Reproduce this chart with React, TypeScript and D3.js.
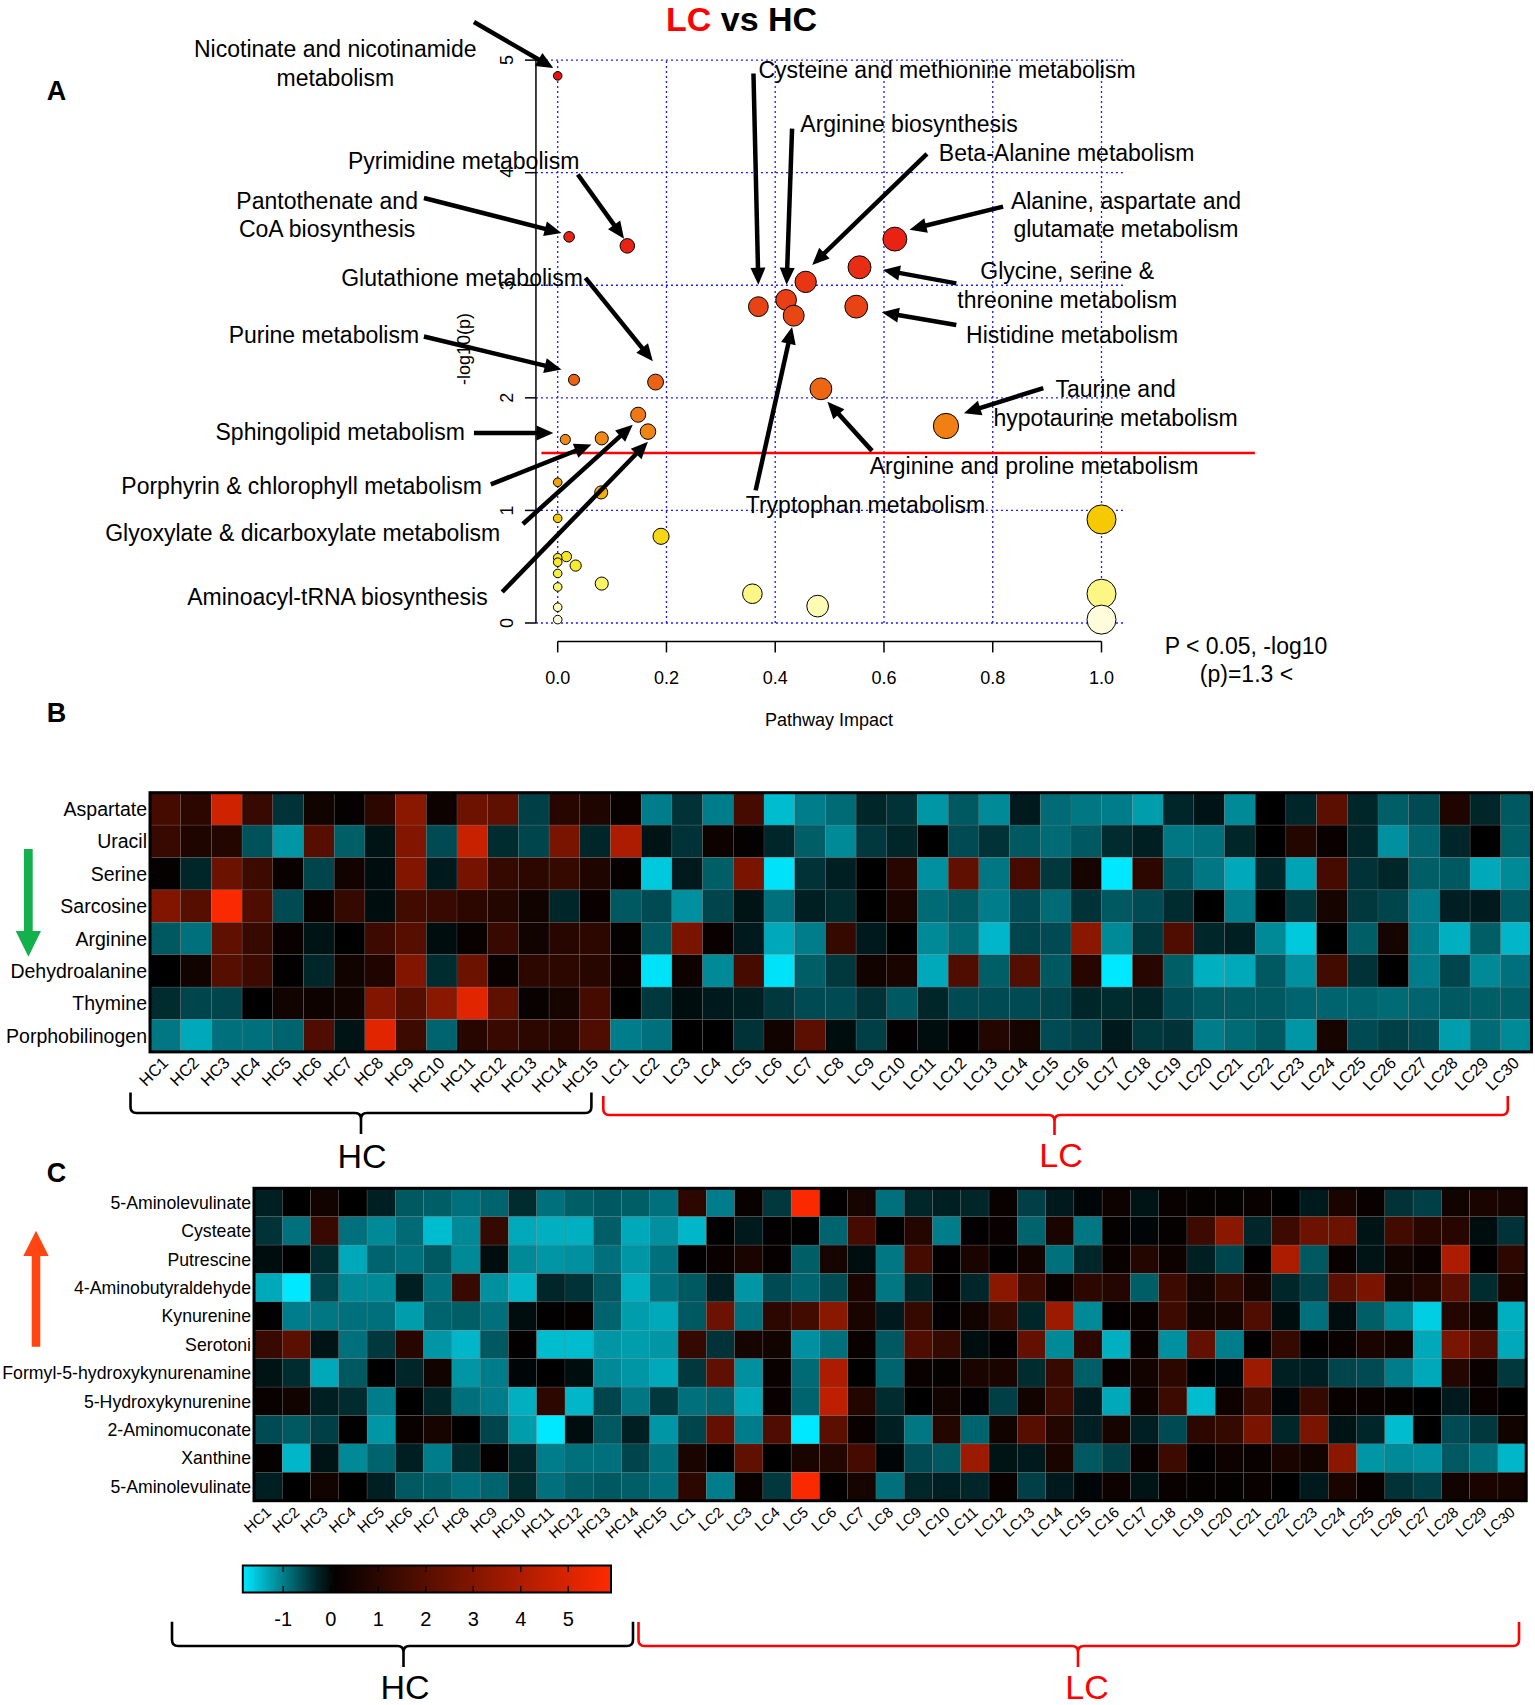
import React, { useEffect } from "react";
import * as d3 from "d3";

// ---------------- Panel A: pathway analysis data ----------------
const pathwayImpact = [0, 0.021, 0.128, 0.03, 0.18, 0.148, 0.166, 0.081, 0.014, 0, 0.08, 0, 0.19, 0.016, 0, 0, 0.033, 0, 0, 0.081, 0, 0,
  0.369, 0.42, 0.434, 0.456, 0.555, 0.549, 0.62, 0.484, 0.714, 1.0, 0.358, 0.478, 1.0, 1.0];
const negLogP = [4.86, 3.43, 3.35, 2.16, 2.14, 1.85, 1.70, 1.64, 1.63, 1.25, 1.16, 0.93, 0.77, 0.59, 0.58, 0.54, 0.51, 0.44, 0.32, 0.35, 0.14, 0.03,
  2.81, 2.87, 2.73, 3.03, 3.16, 2.81, 3.41, 2.08, 1.75, 0.92, 0.26, 0.15, 0.26, 0.03];
const xTicksA = [0, 0.2, 0.4, 0.6, 0.8, 1.0];
const yTicksA = [0, 1, 2, 3, 4, 5];
const thresholdNegLogP = 1.51;

// annotations (text anchor + arrow in data units of panel A)
const pathwayLabels = [
  { lines: ["Nicotinate and nicotinamide", "metabolism"], at: [-0.409, 5.099], from: [-0.154, 5.338], to: [-0.008, 4.93] },
  { lines: ["Pyrimidine metabolism"], at: [-0.173, 4.106], from: [0.037, 3.984], to: [0.122, 3.413] },
  { lines: ["Pantothenate and", "CoA biosynthesis"], at: [-0.424, 3.752], from: [-0.246, 3.775], to: [0.007, 3.464] },
  { lines: ["Glutathione metabolism"], at: [-0.176, 3.066], from: [0.051, 3.066], to: [0.175, 2.325] },
  { lines: ["Purine metabolism"], at: [-0.43, 2.558], from: [-0.246, 2.545], to: [0.007, 2.251] },
  { lines: ["Sphingolipid metabolism"], at: [-0.4, 1.7], from: [-0.154, 1.688], to: [-0.008, 1.688] },
  { lines: ["Porphyrin & chlorophyll metabolism"], at: [-0.471, 1.223], from: [-0.123, 1.231], to: [0.062, 1.586] },
  { lines: ["Glyoxylate & dicarboxylate metabolism"], at: [-0.469, 0.803], from: [-0.064, 0.879], to: [0.138, 1.761] },
  { lines: ["Aminoacyl-tRNA biosynthesis"], at: [-0.405, 0.232], from: [-0.102, 0.275], to: [0.166, 1.61] },
  { lines: ["Cysteine and methionine metabolism"], at: [0.716, 4.914], from: [0.36, 4.881], to: [0.369, 3.005] },
  { lines: ["Arginine biosynthesis"], at: [0.646, 4.432], from: [0.431, 4.391], to: [0.421, 3.005] },
  { lines: ["Beta-Alanine metabolism"], at: [0.936, 4.176], from: [0.679, 4.168], to: [0.468, 3.18] },
  { lines: ["Alanine, aspartate and", "glutamate metabolism"], at: [1.045, 3.752], from: [0.819, 3.699], to: [0.647, 3.494] },
  { lines: ["Glycine, serine &", "threonine metabolism"], at: [0.937, 3.128], from: [0.733, 3.017], to: [0.598, 3.136] },
  { lines: ["Histidine metabolism"], at: [0.946, 2.556], from: [0.733, 2.647], to: [0.596, 2.761] },
  { lines: ["Taurine and", "hypotaurine metabolism"], at: [1.026, 2.076], from: [0.893, 2.087], to: [0.747, 1.864] },
  { lines: ["Arginine and proline metabolism"], at: [0.876, 1.395], from: [0.578, 1.529], to: [0.496, 1.966] },
  { lines: ["Tryptophan metabolism"], at: [0.566, 1.048], from: [0.364, 1.178], to: [0.431, 2.63] },
];

// ---------------- Heatmap samples ----------------
const samples = ["HC1", "HC2", "HC3", "HC4", "HC5", "HC6", "HC7", "HC8", "HC9", "HC10", "HC11", "HC12", "HC13", "HC14", "HC15",
  "LC1", "LC2", "LC3", "LC4", "LC5", "LC6", "LC7", "LC8", "LC9", "LC10", "LC11", "LC12", "LC13", "LC14", "LC15",
  "LC16", "LC17", "LC18", "LC19", "LC20", "LC21", "LC22", "LC23", "LC24", "LC25", "LC26", "LC27", "LC28", "LC29", "LC30"];

// ---------------- Panel B (decreased metabolites) ----------------
const rowsB = ["Aspartate", "Uracil", "Serine", "Sarcosine", "Arginine", "Dehydroalanine", "Thymine", "Porphobilinogen"];
const aspartate = [1.6, 1.0, 4.8, 1.3, -0.4, 0.4, 0.1, 1.0, 3.2, 0.3, 2.5, 2.2, -0.5, 0.9, 0.7,
  0.2, -1.0, -0.4, -1.0, 1.6, -1.5, -1.0, -0.85, -0.3, -0.4, -1.2, -0.7, -1.1, -0.2, -0.85, -0.95, -1.0, -1.25, -0.3, -0.15, -1.1, 0, -0.3, 2.1, -0.3, -0.75, -0.6, 0.7, -0.3, -0.7];
const uracil = [1.3, 0.7, 0.8, -0.65, -1.2, 2.0, -0.75, -0.15, 3.0, -0.6, 4.6, -0.35, -0.55, 2.8, -0.3,
  4.0, -0.15, -0.4, 0.3, 0.1, -0.3, -0.75, -1.1, -0.45, -0.3, 0, -0.6, -0.4, -0.7, -0.85, -0.7, -0.35, -0.25, -0.95, -0.9, -0.3, 0, 0.8, 0.2, -0.3, -1.15, -0.8, -0.3, 0, -0.75];
const serine = [0.1, -0.3, 2.5, 1.4, 0.2, -0.55, 0.4, -0.1, 3.0, -0.2, 2.7, 1.2, 1.0, 1.2, 0.7,
  0.1, -1.6, -0.2, -0.75, 2.8, -1.8, -0.4, -0.25, 0, 0.9, -1.15, 2.2, -0.95, 1.6, -0.45, 0.5, -1.85, 1.0, -0.65, -0.95, -1.35, -0.3, -1.3, 1.6, -0.4, -0.3, -0.75, -0.7, -1.35, -1.1];
const sarcosine = [3.0, 2.0, 5.8, 1.8, -0.6, 0.2, 1.2, -0.1, 1.5, 1.3, 1.0, 0.8, 0.4, -0.3, 0.2,
  -0.7, -0.6, -1.15, -0.55, -0.15, -0.9, -0.25, -0.35, 0, 0.6, -0.85, -0.7, -1.0, -0.6, -0.85, -0.4, -0.7, -0.6, -0.35, 0, -1.0, 0, -0.45, 0.5, -0.45, -0.55, -1.0, -0.25, -0.2, -0.7];
const arginine = [-0.7, -0.9, 2.2, 1.3, 0.2, -0.15, 0, 1.4, 2.0, -0.1, 0.2, 1.3, 0.4, 0.9, 1.0,
  0.1, -0.7, 2.8, 0.2, -0.2, -1.35, -1.0, 1.2, -0.2, 0, -1.1, -0.85, -1.45, -0.55, -0.6, 3.2, -1.1, -0.45, 1.8, -0.3, -0.25, -1.1, -1.6, 0, -0.75, 0.5, -1.0, -1.4, -0.75, -1.45];
const dehydroalanine = [0, 0.4, 2.0, 1.4, 0.05, -0.3, 0.4, 0.7, 3.0, -0.35, 2.5, 0.2, 1.0, 1.0, 0.9,
  0.2, -1.8, 0.3, -1.1, 1.6, -1.8, -0.75, -0.45, 0.4, 0.6, -1.35, 1.8, -0.75, 1.9, -0.7, 0.9, -1.9, 0.9, -0.75, -1.4, -1.35, -0.7, -1.15, 1.5, -0.4, 0, -1.0, -0.55, -1.1, -0.9];
const thymine = [-0.35, -0.55, -0.55, 0, 0.4, 0.3, 0.4, 3.0, 2.0, 3.2, 5.2, 2.2, 0.2, 0.5, 1.6,
  0, -0.45, -0.1, -0.2, -0.25, -0.45, -0.6, -0.6, -0.4, -0.7, -0.3, -0.6, -0.6, -0.6, -0.55, -0.3, -0.35, -0.3, -0.6, -0.7, -0.7, -0.7, -0.8, -0.8, -0.8, -0.85, -0.8, -0.7, -0.75, -0.75];
const porphobilinogen = [-0.95, -1.35, -0.9, -0.9, -0.8, 1.8, -0.15, 5.2, 1.4, -0.8, 0.9, 1.3, 1.0, 0.9, 1.8,
  -1.0, -0.9, 0, 0, -0.4, 0.4, 2.1, -0.1, -0.5, 0.05, -0.1, 0.05, 0.8, 0.5, -0.6, -0.5, -0.2, -0.45, -0.4, -1.0, -0.85, -0.7, -1.2, 0.5, -0.6, -0.5, -0.6, -1.25, -0.85, -1.1];
const valuesB = [aspartate, uracil, serine, sarcosine, arginine, dehydroalanine, thymine, porphobilinogen];

// ---------------- Panel C (increased metabolites) ----------------
const rowsC = ["5-Aminolevulinate", "Cysteate", "Putrescine", "4-Aminobutyraldehyde", "Kynurenine", "Serotoni",
  "Formyl-5-hydroxykynurenamine", "5-Hydroxykynurenine", "2-Aminomuconate", "Xanthine", "5-Aminolevulinate"];
const aminolevulinate = [-0.25, 0, 0.4, 0, -0.25, -0.7, -0.75, -0.9, -0.8, -0.35, -0.9, -0.75, -0.7, -0.75, -0.9,
  1.0, -1.0, 0.2, -0.45, 5.8, 0.05, 0.5, -0.9, -0.3, -0.25, -0.3, 0.2, -0.5, -0.2, -0.05, 0.3, -0.15, 0.2, 0.1, 0.1, 0.2, 0, -0.2, 0.6, 0.2, -0.4, -0.5, 0.4, 0.6, 0.5];
const cysteate = [-0.4, -0.9, 1.3, -0.9, -1.1, -0.85, -1.5, -1.1, 1.2, -1.35, -1.4, -1.4, -0.75, -1.35, -1.15,
  -1.45, 0, -0.2, 0.05, 0, -0.8, 1.6, 0, 0.8, -1.0, 0.05, 0.2, -0.8, 0.6, -0.95, 0.1, -0.05, 0.1, 1.4, 3.2, -0.3, 1.4, 2.5, 2.5, -0.15, 1.5, 0.9, 0.9, -0.1, -0.4];
const putrescine = [-0.1, 0, -0.35, -1.35, -0.8, -0.9, -0.7, -1.1, -0.1, -1.1, -1.2, -1.15, -0.9, -1.2, -0.9,
  0.05, 0.2, 0.6, 0.15, -0.75, 0.5, -0.1, -0.95, 1.6, 0.05, 0.6, 0.05, 0.4, -0.9, -0.3, 0.2, 0.8, 0.3, -0.25, -0.55, 0.05, 4.0, -0.7, 0.2, -0.15, 0.4, 0.2, 4.0, 0.05, 1.0];
const aminobutyraldehyde = [-1.35, -1.85, -0.55, -1.1, -1.1, -0.25, -0.9, 1.3, -1.15, -1.45, -0.3, -0.4, -0.7, -1.4, -0.9,
  -0.7, -0.25, -1.2, -0.6, -0.8, -0.6, 0.6, -0.95, -0.3, 0.05, -0.3, 3.2, 1.4, 0.2, 1.0, 0.8, -0.75, 1.4, 0.5, 1.2, 0.5, -0.3, -0.5, 2.1, 2.8, 0.5, 0.8, 2.1, -0.35, 0.6];
const kynurenine = [0.05, -1.0, -0.95, -0.9, -0.9, -1.25, -0.8, -0.75, -0.9, -0.1, 0.05, 0.1, -0.8, -1.25, -1.35,
  -0.7, 2.5, -0.9, 1.0, 1.5, 3.2, 0.6, -0.2, 1.2, 0.05, 0.4, 1.2, -0.3, 3.6, -1.1, 0.05, 0.2, 1.4, 0.4, 0.5, 1.8, -0.1, -0.9, -0.1, -0.75, -1.1, -1.65, 0.8, 0.4, -1.4];
const serotonin = [1.3, 2.1, -0.15, -0.9, -0.45, 0.9, -1.2, -1.45, -0.7, 0.05, -1.5, -1.5, -1.2, -1.25, -1.2,
  1.2, -0.4, 0.5, 0.4, -1.15, -0.9, 0.2, -0.7, 1.8, 1.2, -0.1, 0.05, 2.3, -1.1, 1.0, -1.4, 0.2, -1.15, 2.3, -1.0, 0.05, 1.2, 0.05, 0.2, 0.6, 0.4, -1.35, 2.8, 1.8, -1.35];
const formylHydroxykynurenamine = [-0.15, -0.35, -1.35, -0.7, 0, -0.3, 0.4, -1.2, -1.0, -0.05, 0, -0.1, -1.1, -1.2, -1.35,
  -0.45, 2.2, -1.15, 0.2, -0.85, 4.0, 0, -0.8, 0.2, 0.1, 0.6, 0.6, -0.35, 1.3, -0.75, 0.2, 0.4, 1.0, 0, -0.05, 3.6, -0.25, -0.25, -0.55, -0.6, -1.0, -1.35, 0.8, 0.2, -0.45];
const hydroxykynurenine = [0.2, 0.4, -0.25, -0.35, -1.0, 0, -0.3, -0.9, -1.0, -1.4, 1.0, -1.45, -0.55, -0.95, -0.45,
  -0.9, -0.8, -1.35, 0.2, -0.8, 4.4, 0.8, -0.35, 0, 0.4, 0.05, -0.5, 0.4, 1.4, -0.2, -1.35, 0.3, 1.4, -1.5, 0.3, 1.4, -0.05, 1.2, 0.2, 0.2, 0.1, 0, -0.2, 0.2, 0];
const aminomuconate = [-0.6, -0.7, -0.5, 0, -1.2, 0.2, 0.5, 0, -0.55, -1.25, -1.85, -0.1, -0.7, -0.25, -1.2,
  -0.55, 2.3, -1.0, 1.8, -1.85, 2.1, 0.2, -0.25, -0.95, 0.8, -0.8, 0.4, 2.0, 0.8, -0.25, 0.5, -0.25, -0.6, 1.0, 1.2, 2.8, -0.3, 2.8, -0.15, -0.3, -1.5, 0, -0.6, -0.45, 0.4];
const xanthine = [0.1, -1.45, -0.15, -1.1, -0.8, -0.25, -1.0, -0.35, 0.1, -0.3, -1.0, -0.9, -0.9, -0.55, -0.9,
  0.6, 0, 2.2, 0, 0.6, 0.8, 1.6, -0.05, -0.6, -0.7, 3.6, -0.15, -0.2, 0.6, -0.7, -0.5, 0.2, 1.4, 0.05, 0.3, 0.2, 0.6, 0.4, 3.2, -1.2, -1.1, -1.15, -0.7, -0.9, -1.45];
const aminolevulinate2 = [-0.25, 0, 0.4, 0, -0.25, -0.7, -0.75, -0.9, -0.8, -0.35, -0.9, -0.75, -0.7, -0.75, -0.9,
  1.0, -1.0, 0.2, -0.45, 5.8, 0.05, 0.5, -0.9, -0.3, -0.25, -0.3, 0.2, -0.5, -0.2, -0.05, 0.3, -0.15, 0.2, 0.1, 0.1, 0.2, 0, -0.2, 0.6, 0.2, -0.4, -0.5, 0.4, 0.6, 0.5];
const valuesC = [aminolevulinate, cysteate, putrescine, aminobutyraldehyde, kynurenine, serotonin,
  formylHydroxykynurenamine, hydroxykynurenine, aminomuconate, xanthine, aminolevulinate2];

const legendTicks = [-1, 0, 1, 2, 3, 4, 5];
const legendDomain = [-1.85, 5.9];

// ---------------- styles / layout ----------------
const FONT = "'Liberation Sans', Arial, Helvetica, sans-serif";
const heatColor = d3.scaleLinear<string>().domain([-1.85, 0, 5.9]).range(["#00e8ff", "#000000", "#ff2a00"]).clamp(true);
const pColor = d3.scaleLinear<string>()
  .domain([0, 0.15, 0.3, 0.5, 0.95, 1.25, 1.7, 2.1, 2.8, 3.3, 5])
  .range(["#fffce6", "#fdfbb4", "#fbf674", "#f8ec30", "#f6c800", "#f3a40c", "#f08414", "#ec6414", "#e84414", "#e82414", "#e41010"]);

function Arrow({ x1, y1, x2, y2, color = "#000", w = 4.5, hl = 17, hw = 7.5 }: any) {
  const a = Math.atan2(y2 - y1, x2 - x1);
  const bx = x2 - hl * Math.cos(a), by = y2 - hl * Math.sin(a);
  const px = -Math.sin(a), py = Math.cos(a);
  return (
    <g>
      <line x1={x1} y1={y1} x2={bx + Math.cos(a) * 2} y2={by + Math.sin(a) * 2} stroke={color} strokeWidth={w} />
      <polygon points={`${x2},${y2} ${bx + px * hw},${by + py * hw} ${bx - px * hw},${by - py * hw}`} fill={color} />
    </g>
  );
}

function Brace({ xa, xb, xc, yTop, yH, yC, color }: any) {
  const r = 6;
  const d = `M${xa},${yTop} L${xa},${yH - r} Q${xa},${yH} ${xa + r},${yH} L${xc - r},${yH} Q${xc},${yH} ${xc},${yH + r} L${xc},${yC}
    M${xc},${yH + r} Q${xc},${yH} ${xc + r},${yH} L${xb - r},${yH} Q${xb},${yH} ${xb},${yH - r} L${xb},${yTop}`;
  return <path d={d} fill="none" stroke={color} strokeWidth={2.6} />;
}

function Heatmap({ rows, values, x0, x1, y0, y1, labelSize, colSize, colAngle, labelDx, colDy }: any) {
  const xS = d3.scaleBand<string>().domain(samples).range([x0, x1]);
  const yS = d3.scaleBand<number>().domain(d3.range(rows.length)).range([y0, y1]);
  return (
    <g>
      {values.map((row: number[], ri: number) =>
        row.map((v, ci) => (
          <rect key={`${ri}-${ci}`} x={xS(samples[ci])} y={yS(ri)} width={xS.bandwidth()} height={yS.bandwidth()}
            fill={heatColor(v)} stroke="rgba(120,120,120,0.35)" strokeWidth={0.6} />
        ))
      )}
      <rect x={x0} y={y0} width={x1 - x0} height={y1 - y0} fill="none" stroke="#000" strokeWidth={3} />
      {rows.map((r: string, ri: number) => (
        <text key={ri} x={x0 - labelDx} y={(yS(ri) as number) + yS.bandwidth() / 2 + labelSize * 0.36}
          textAnchor="end" fontSize={labelSize}>{r}</text>
      ))}
      {samples.map((s) => {
        const cx = (xS(s) as number) + xS.bandwidth() / 2;
        return (
          <text key={s} transform={`translate(${cx + 4},${y1 + colDy}) rotate(${-colAngle})`} textAnchor="end" fontSize={colSize}>{s}</text>
        );
      })}
    </g>
  );
}

export default function App() {
  useEffect(() => {
    document.body.style.margin = "0";
    document.body.style.overflow = "hidden";
  }, []);

  // Panel A scales
  const xA = d3.scaleLinear().domain([0, 1]).range([557.7, 1101.5]);
  const yA = d3.scaleLinear().domain([0, 5]).range([623, 60.1]);
  const rA = d3.scalePow().exponent(0.6).domain([0, 1]).range([4.3, 14.5]);
  const gridX0 = xA(-0.04), gridX1 = xA(1.042);
  const axisY = 641.4;

  // legend
  const lg = d3.scaleLinear().domain(legendDomain).range([242.8, 611]);
  const stops = d3.range(0, 21).map((i) => legendDomain[0] + (i / 20) * (legendDomain[1] - legendDomain[0]));

  return (
    <svg width={1535} height={1705} style={{ display: "block", background: "#fff" }} fontFamily={FONT}>
      <defs>
        <linearGradient id="lgGrad" x1="0" x2="1" y1="0" y2="0">
          {stops.map((v, i) => (
            <stop key={i} offset={`${(i / 20) * 100}%`} stopColor={heatColor(v)} />
          ))}
        </linearGradient>
      </defs>

      {/* ---------- Panel A ---------- */}
      <text x={46.7} y={100} fontSize={27} fontWeight="bold">A</text>
      <text x={666} y={30.5} fontSize={34} fontWeight="bold">
        <tspan fill="#ff0000">LC</tspan>
        <tspan fill="#000"> vs HC</tspan>
      </text>

      {/* grid */}
      {xTicksA.map((t) => (
        <line key={`gx${t}`} x1={xA(t)} x2={xA(t)} y1={yA(0)} y2={yA(5)} stroke="#1a1aff" strokeWidth={1.3} strokeDasharray="2 3" />
      ))}
      {yTicksA.map((t) => (
        <line key={`gy${t}`} x1={gridX0} x2={gridX1} y1={yA(t)} y2={yA(t)} stroke="#1a1aff" strokeWidth={1.3} strokeDasharray="2 3" />
      ))}

      {/* y axis */}
      <line x1={gridX0} x2={gridX0} y1={yA(5) - 3} y2={yA(0)} stroke="#000" strokeWidth={1.5} />
      {yTicksA.map((t) => (
        <g key={`yt${t}`}>
          <line x1={gridX0 - 11} x2={gridX0} y1={yA(t)} y2={yA(t)} stroke="#000" strokeWidth={1.5} />
          <text transform={`translate(513,${yA(t)}) rotate(-90)`} textAnchor="middle" fontSize={18}>{t}</text>
        </g>
      ))}
      <text transform="translate(470,349) rotate(-90)" textAnchor="middle" fontSize={18}>-log10(p)</text>

      {/* x axis */}
      <line x1={xA(0)} x2={xA(1)} y1={axisY} y2={axisY} stroke="#000" strokeWidth={1.5} />
      {xTicksA.map((t) => (
        <g key={`xt${t}`}>
          <line x1={xA(t)} x2={xA(t)} y1={axisY} y2={axisY + 11} stroke="#000" strokeWidth={1.5} />
          <text x={xA(t)} y={683.5} textAnchor="middle" fontSize={18}>{t.toFixed(1)}</text>
        </g>
      ))}
      <text x={829} y={726} textAnchor="middle" fontSize={18}>Pathway Impact</text>

      {/* threshold */}
      <line x1={xA(-0.03)} x2={xA(1.282)} y1={yA(thresholdNegLogP)} y2={yA(thresholdNegLogP)} stroke="#ff0000" strokeWidth={2.5} />

      {/* points */}
      {pathwayImpact.map((x, i) => (
        <circle key={`p${i}`} cx={xA(x)} cy={yA(negLogP[i])} r={rA(x)} fill={pColor(negLogP[i])} stroke="#000" strokeWidth={1} />
      ))}

      {/* annotations */}
      {pathwayLabels.map((l, i) => (
        <g key={`lab${i}`}>
          {l.lines.map((s, j) => (
            <text key={j} x={xA(l.at[0])} y={yA(l.at[1]) + j * 28.7 + 8.2} textAnchor="middle" fontSize={23}>{s}</text>
          ))}
          <Arrow x1={xA(l.from[0])} y1={yA(l.from[1])} x2={xA(l.to[0])} y2={yA(l.to[1])} />
        </g>
      ))}

      <text x={1246} y={654} textAnchor="middle" fontSize={23}>P &lt; 0.05, -log10</text>
      <text x={1246.5} y={681.6} textAnchor="middle" fontSize={23}>(p)=1.3 &lt;</text>

      {/* ---------- Panel B ---------- */}
      <text x={46.7} y={722} fontSize={27} fontWeight="bold">B</text>
      <polygon points="24,849 32.7,849 32.7,931 41,931 28.4,956.7 15.7,931 24,931" fill="#14b04c" />
      <Heatmap rows={rowsB} values={valuesB} x0={150} x1={1531.5} y0={792.7} y1={1051.9}
        labelSize={19.5} labelDx={3} colSize={16.5} colAngle={45} colDy={12} />
      <Brace xa={130.5} xb={591.4} xc={361} yTop={1092.5} yH={1113} yC={1134} color="#000" />
      <Brace xa={603.3} xb={1507.8} xc={1054.5} yTop={1096} yH={1115} yC={1135} color="#ff0000" />
      <text x={362} y={1167.5} textAnchor="middle" fontSize={34}>HC</text>
      <text x={1061} y={1166.5} textAnchor="middle" fontSize={34} fill="#ff0000">LC</text>

      {/* ---------- Panel C ---------- */}
      <text x={46.7} y={1181.7} fontSize={27} fontWeight="bold">C</text>
      <polygon points="31.7,1346.7 40.3,1346.7 40.3,1256 48.7,1256 36,1230.7 23.3,1256 31.7,1256" fill="#ff4512" />
      <Heatmap rows={rowsC} values={valuesC} x0={254} x1={1526.2} y0={1188.3} y1={1500.7}
        labelSize={17.7} labelDx={3} colSize={15} colAngle={42} colDy={13} />

      {/* legend */}
      <rect x={lg(legendDomain[0])} y={1565.5} width={lg(legendDomain[1]) - lg(legendDomain[0])} height={27} fill="url(#lgGrad)" stroke="#000" strokeWidth={2} />
      {legendTicks.map((t) => (
        <g key={`lt${t}`}>
          <line x1={lg(t)} x2={lg(t)} y1={1565.5} y2={1572} stroke="#000" strokeWidth={1.3} />
          <line x1={lg(t)} x2={lg(t)} y1={1586} y2={1592.5} stroke="#000" strokeWidth={1.3} />
          <text x={lg(t)} y={1626} textAnchor="middle" fontSize={20}>{t}</text>
        </g>
      ))}
      <Brace xa={172} xb={633} xc={403.5} yTop={1621.7} yH={1646} yC={1667} color="#000" />
      <Brace xa={638.5} xb={1519} xc={1078} yTop={1622} yH={1646} yC={1667} color="#ff0000" />
      <text x={405} y={1699} textAnchor="middle" fontSize={34}>HC</text>
      <text x={1087} y={1699} textAnchor="middle" fontSize={34} fill="#ff0000">LC</text>
    </svg>
  );
}
